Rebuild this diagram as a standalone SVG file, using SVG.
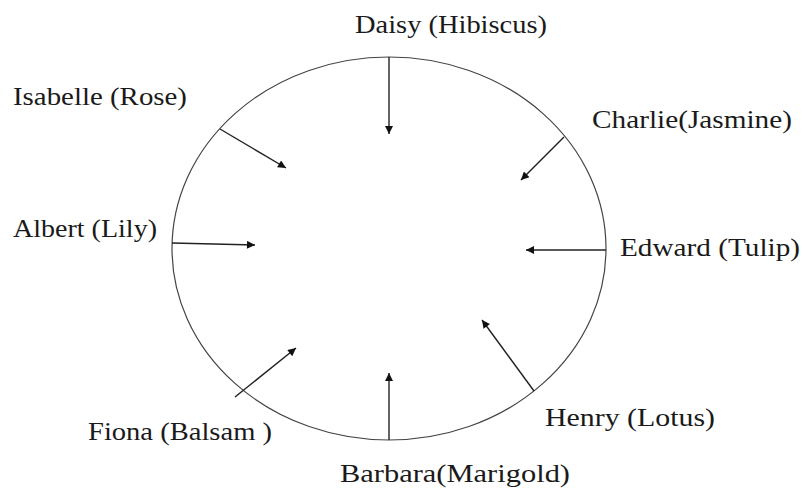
<svg xmlns="http://www.w3.org/2000/svg" width="802" height="490" viewBox="0 0 802 490">
<style>
.lbl{font-family:"Liberation Serif","DejaVu Serif",serif;font-size:26px;fill:#1a1a1a}
.c{stroke:#222;stroke-width:1.4;fill:none}
.o{stroke:#444;stroke-width:1.2;fill:none}
</style>
<defs>
<marker id="ah" viewBox="0 0 10 10" refX="10" refY="5" markerWidth="10" markerHeight="8" markerUnits="userSpaceOnUse" orient="auto">
<path d="M0,0 L10,5 L0,10 z" fill="#111"/>
</marker>
</defs>
<rect width="802" height="490" fill="#fff"/>
<g id="circle"><ellipse class="o" cx="389" cy="248.5" rx="217" ry="191.5"/></g>
<g id="connectors">
<line class="c" x1="389" y1="57" x2="389" y2="134" marker-end="url(#ah)"/>
<line class="c" x1="220" y1="129" x2="286" y2="168" marker-end="url(#ah)"/>
<line class="c" x1="564" y1="137" x2="521" y2="180" marker-end="url(#ah)"/>
<line class="c" x1="172" y1="243" x2="255" y2="245" marker-end="url(#ah)"/>
<line class="c" x1="606" y1="250" x2="526" y2="250" marker-end="url(#ah)"/>
<line class="c" x1="235" y1="397" x2="296" y2="348" marker-end="url(#ah)"/>
<line class="c" x1="389" y1="440" x2="389" y2="373" marker-end="url(#ah)"/>
<line class="c" x1="534" y1="391" x2="482" y2="320" marker-end="url(#ah)"/>
</g>
<g id="daisy"><text class="lbl" x="355" y="33" textLength="192" lengthAdjust="spacingAndGlyphs">Daisy (Hibiscus)</text></g>
<g id="isabelle"><text class="lbl" x="13" y="105" textLength="174" lengthAdjust="spacingAndGlyphs">Isabelle (Rose)</text></g>
<g id="charlie"><text class="lbl" x="592" y="128" textLength="200" lengthAdjust="spacingAndGlyphs">Charlie(Jasmine)</text></g>
<g id="albert"><text class="lbl" x="13" y="237" textLength="144" lengthAdjust="spacingAndGlyphs">Albert (Lily)</text></g>
<g id="edward"><text class="lbl" x="620" y="256" textLength="180" lengthAdjust="spacingAndGlyphs">Edward (Tulip)</text></g>
<g id="fiona"><text class="lbl" x="88" y="440" textLength="184" lengthAdjust="spacingAndGlyphs">Fiona (Balsam )</text></g>
<g id="henry"><text class="lbl" x="545" y="426" textLength="170" lengthAdjust="spacingAndGlyphs">Henry (Lotus)</text></g>
<g id="barbara"><text class="lbl" x="340" y="482" textLength="230" lengthAdjust="spacingAndGlyphs">Barbara(Marigold)</text></g>
</svg>
